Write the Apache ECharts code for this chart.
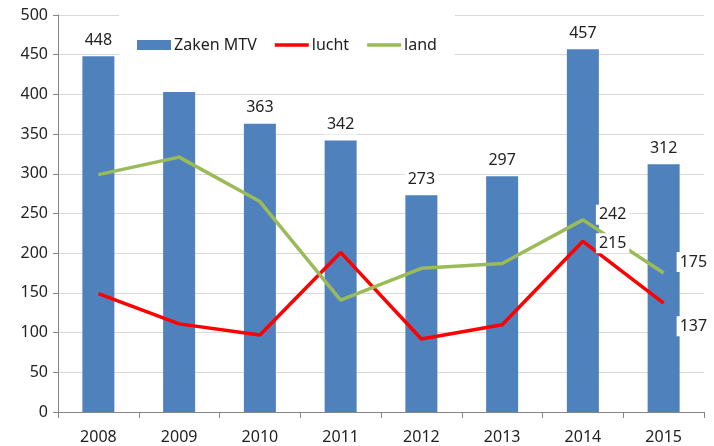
<!DOCTYPE html>
<html><head><meta charset="utf-8">
<script src="https://cdn.jsdelivr.net/npm/echarts@6/dist/echarts.min.js"></script>
<style>html,body{margin:0;padding:0;background:#fff}#c{width:714px;height:446px}</style>
</head><body><div id="c"></div>
<script>
const years = ['2008','2009','2010','2011','2012','2013','2014','2015'];
const zaken = [448, 403, 363, 342, 273, 297, 457, 312];
const lucht = [149, 111, 97, 201, 92, 110, 215, 137];
const land = [299, 321, 265, 141, 181, 187, 242, 175];
const yTicks = [0, 50, 100, 150, 200, 250, 300, 350, 400, 450, 500];
const hiddenBarLabels = [1];
const luchtLabels = {6: [0, 2], 7: [0, 23]};
const landLabels = {6: [0, -5], 7: [0, -11]};

const font = 'Noto Sans';
const txt = '#222';
const labelBase = {fontFamily: font, fontSize: 16, color: txt, backgroundColor: '#fff', padding: [2, 3]};
const lineIcon = 'path://M0,0L34,0L34,3.5L0,3.5Z';

const chart = echarts.init(document.getElementById('c'), null, {renderer: 'canvas'});
chart.setOption({
  animation: false,
  grid: {left: 58, right: 10, top: 15, bottom: 34},
  legend: {
    left: 119, top: 15,
    padding: [22, 18, 30, 18],
    backgroundColor: '#fff',
    itemWidth: 34, itemHeight: 10, itemGap: 18,
    textStyle: {fontFamily: font, fontSize: 16, color: txt, padding: [0, 0, 0, -2]},
    data: [{name: 'Zaken MTV', icon: 'rect'}, {name: 'lucht', icon: lineIcon}, {name: 'land', icon: lineIcon}]
  },
  xAxis: {
    type: 'category', data: years,
    axisLine: {lineStyle: {color: '#868686', width: 1}},
    axisTick: {show: true, length: 6, lineStyle: {color: '#868686'}},
    axisLabel: {fontFamily: font, fontSize: 16, color: txt, margin: 17}
  },
  yAxis: {
    type: 'value', min: yTicks[0], max: yTicks[yTicks.length - 1], interval: 50,
    axisLine: {show: true, lineStyle: {color: '#868686'}},
    axisTick: {show: true, length: 5, lineStyle: {color: '#868686'}},
    splitLine: {lineStyle: {color: '#d9d9d9'}},
    axisLabel: {fontFamily: font, fontSize: 16, color: txt, margin: 10}
  },
  series: [
    {
      name: 'Zaken MTV', type: 'bar', barWidth: 32,
      itemStyle: {color: '#4F81BD'},
      data: zaken.map((v, i) => ({value: v, label: {show: hiddenBarLabels.indexOf(i) < 0}})),
      label: Object.assign({position: 'top', distance: 6}, labelBase),
      z: 2
    },
    {
      name: 'lucht', type: 'line', symbol: 'circle', symbolSize: 0.01, showSymbol: true,
      lineStyle: {color: '#FF0000', width: 3.5}, itemStyle: {color: '#FF0000'},
      data: lucht.map((v, i) => ({value: v, label: luchtLabels[i] ? {show: true, offset: luchtLabels[i]} : {show: false}})),
      label: Object.assign({position: 'right', distance: 13}, labelBase),
      z: 3
    },
    {
      name: 'land', type: 'line', symbol: 'circle', symbolSize: 0.01, showSymbol: true,
      lineStyle: {color: '#9BBB59', width: 3.5}, itemStyle: {color: '#9BBB59'},
      data: land.map((v, i) => ({value: v, label: landLabels[i] ? {show: true, offset: landLabels[i]} : {show: false}})),
      label: Object.assign({position: 'right', distance: 13}, labelBase),
      z: 3
    }
  ]
});
</script></body></html>
